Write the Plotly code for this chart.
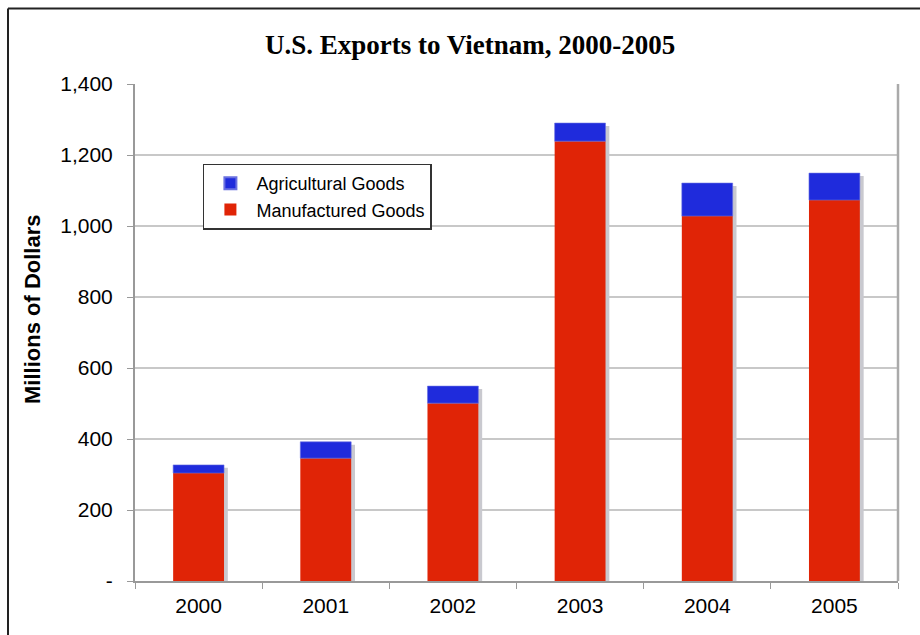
import plotly.graph_objects as go

years = ["2000", "2001", "2002", "2003", "2004", "2005"]
manufactured = [304, 346, 501, 1239, 1028, 1073]
agricultural = [23, 46, 48, 51, 93, 76]
totals = [m + a for m, a in zip(manufactured, agricultural)]
ytick_vals = [0, 200, 400, 600, 800, 1000, 1200, 1400]
ytick_text = ["-", "200", "400", "600", "800", "1,000", "1,200", "1,400"]

W = 0.4
fig = go.Figure()
# shadow
fig.add_trace(go.Bar(x=years, y=[t - 8 for t in totals], base=[0]*6, width=W,
                     offset=-W/2 + 0.03, marker=dict(color="#c9c9cf", line=dict(width=0)),
                     showlegend=False, hoverinfo="skip"))
fig.add_trace(go.Bar(x=years, y=manufactured, base=[0]*6, width=W, offset=-W/2,
                     name="Manufactured Goods",
                     marker=dict(color="#e02406", line=dict(width=0))))
fig.add_trace(go.Bar(x=years, y=agricultural, base=manufactured, width=W, offset=-W/2,
                     name="Agricultural Goods",
                     marker=dict(color="#1f2bdc", line=dict(width=0.6, color="#6a70e0"))))

fig.update_layout(
    width=920, height=635,
    barmode="overlay",
    paper_bgcolor="white", plot_bgcolor="white",
    margin=dict(l=135, r=22, t=84, b=54),
    font=dict(family="Liberation Sans, Arial", size=21, color="black"),
    title=dict(text="<b>U.S. Exports to Vietnam, 2000-2005</b>",
               font=dict(family="Liberation Serif, Times New Roman", size=27, color="black"),
               x=0.511, xanchor="center", y=0.93, yanchor="middle"),
    showlegend=True,
    legend=dict(x=0.089, y=0.84, xanchor="left", yanchor="top",
                bgcolor="white", bordercolor="#333333", borderwidth=1.5,
                traceorder="reversed",
                font=dict(family="Liberation Sans, Arial", size=18),
                itemsizing="constant", tracegroupgap=0,
                itemwidth=42),
    bargap=0.6,
    xaxis=dict(type="category", showgrid=False, showline=True, linecolor="#999999",
               linewidth=2, ticks="outside", tickson="boundaries", ticklen=6,
               tickcolor="#999999", mirror=False, tickfont=dict(size=21),
               ticklabelstandoff=5),
    yaxis=dict(range=[0, 1400], tickvals=ytick_vals, ticktext=ytick_text,
               showgrid=True, gridcolor="#c8c8c8", gridwidth=1.5,
               showline=True, linecolor="#999999", linewidth=2,
               ticks="outside", ticklen=6, tickcolor="#999999",
               zeroline=False, tickfont=dict(size=21), ticklabelstandoff=10),
    shapes=[
        dict(type="line", xref="paper", yref="paper",
             x0=(8 - 135) / 763, x1=(8 - 135) / 763, y0=-0.2, y1=(581 - 8.5) / 497,
             line=dict(color="#222222", width=2)),
        dict(type="line", xref="paper", yref="paper",
             x0=(8 - 135) / 763, x1=(940 - 135) / 763, y0=(581 - 8.5) / 497, y1=(581 - 8.5) / 497,
             line=dict(color="#222222", width=2)),
        dict(type="line", xref="paper", yref="paper", x0=1, x1=1, y0=0, y1=1,
             line=dict(color="#aaaaaa", width=2.5)),
    ],
    annotations=[
        dict(text="<b>Millions of Dollars</b>", xref="paper", yref="paper",
             x=(32 - 135) / 763, y=(581 - 310) / 497, textangle=-90, showarrow=False,
             xanchor="center", yanchor="middle",
             font=dict(family="Liberation Sans, Arial", size=22, color="black")),
    ],
)

fig.write_html("out.html")
